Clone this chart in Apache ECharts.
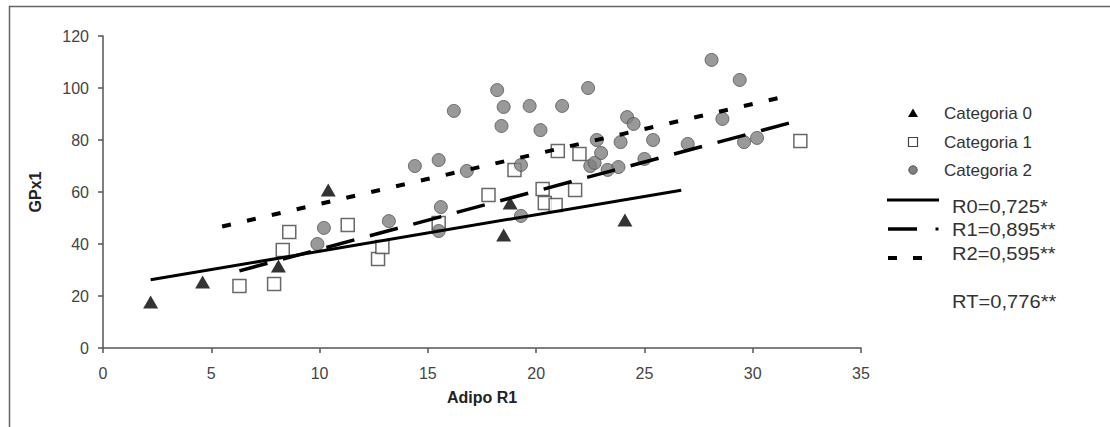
<!DOCTYPE html>
<html>
<head>
<meta charset="utf-8">
<script src="https://cdn.jsdelivr.net/npm/echarts@6/dist/echarts.min.js"></script>
<style>
  html, body { margin: 0; padding: 0; background: #fff; }
  #chart { width: 1110px; height: 427px; }
</style>
</head>
<body>
<div id="chart"></div>
<script>
// Adipo R1 (x) versus GPx1 (y), one group per category
const cat0X = [2.2, 4.6, 8.1, 10.4, 18.5, 18.8, 24.1];
const cat0Y = [17.7, 25.4, 31.5, 60.8, 43.5, 55.8, 49.2];

const cat1X = [6.3, 7.9, 8.3, 8.6, 11.3, 12.7, 12.9, 15.5, 17.8, 19.0, 20.3, 20.4, 20.9, 21.8, 21.0, 22.0, 32.2];
const cat1Y = [23.8, 24.6, 37.7, 44.6, 47.3, 34.2, 38.8, 48.1, 58.8, 68.5, 61.2, 55.8, 55.0, 60.8, 75.8, 74.6, 79.6];

const cat2X = [9.9, 10.2, 13.2, 14.4, 15.5, 15.5, 15.6, 16.2, 16.8, 18.2, 18.5, 18.4, 19.7, 20.2, 19.3, 19.3, 21.2, 22.4,
               22.5, 22.7, 22.8, 23.0, 23.3, 23.8, 23.9, 24.2, 24.5, 25.0, 25.4, 27.0, 28.1, 28.6, 29.4, 29.6, 30.2];
const cat2Y = [40.0, 46.2, 48.8, 70.0, 72.3, 45.0, 54.2, 91.2, 68.1, 99.2, 92.7, 85.4, 93.1, 83.8, 70.4, 50.8, 93.1, 100.0,
               70.0, 71.2, 80.0, 75.0, 68.5, 69.6, 79.2, 88.8, 86.2, 72.7, 80.0, 78.5, 110.8, 88.1, 103.1, 79.2, 80.8];

const seriesNames = ['Categoria 0', 'Categoria 1', 'Categoria 2'];
const trendLabels = ['R0=0,725*', 'R1=0,895**', 'R2=0,595**'];
const totalLabel = 'RT=0,776**';
// x extent over which each fitted line is drawn
const trendRange = [[2.2, 26.7], [6.3, 32.2], [5.5, 31.3]];

const xAxisTitle = 'Adipo R1';
const yAxisTitle = 'GPx1';
const xTicks = { min: 0, max: 35, step: 5 };
const yTicks = { min: 0, max: 120, step: 20 };

// least-squares line y = a + b x
function fitLine(xs, ys) {
  const n = xs.length;
  const mx = xs.reduce((s, v) => s + v, 0) / n;
  const my = ys.reduce((s, v) => s + v, 0) / n;
  let sxy = 0, sxx = 0;
  for (let i = 0; i < n; i++) {
    sxy += (xs[i] - mx) * (ys[i] - my);
    sxx += (xs[i] - mx) * (xs[i] - mx);
  }
  const b = sxy / sxx;
  const a = my - b * mx;
  return x => a + b * x;
}

const groupsX = [cat0X, cat1X, cat2X];
const groupsY = [cat0Y, cat1Y, cat2Y];
const pairs = groupsX.map((xs, g) => xs.map((x, i) => [x, groupsY[g][i]]));
const trendData = groupsX.map((xs, g) => {
  const f = fitLine(xs, groupsY[g]);
  return trendRange[g].map(x => [x, f(x)]);
});

const FONT = '"Liberation Sans", Arial, sans-serif';

const markerStyles = [
  { symbol: 'triangle', symbolSize: [15, 13], itemStyle: { color: '#000' } },
  { symbol: 'rect', symbolSize: 13, itemStyle: { color: '#fff', borderColor: '#444', borderWidth: 1.5 } },
  { symbol: 'circle', symbolSize: 13, itemStyle: { color: '#808080', borderColor: '#555', borderWidth: 1 } }
];
const lineStyles = [
  { type: 'solid', width: 3 },
  { type: [29, 16], width: 3.5 },
  { type: [9, 16.5], width: 4 }
];

const series = [];
pairs.forEach((d, g) => {
  series.push(Object.assign({
    type: 'scatter', name: seriesNames[g], data: d, z: 2,
    emphasis: { disabled: true }
  }, markerStyles[g]));
});
trendData.forEach((d, g) => {
  series.push({
    type: 'line', name: trendLabels[g], data: d, showSymbol: false, z: 3,
    lineStyle: Object.assign({ color: '#000', cap: 'butt' }, lineStyles[g]),
    emphasis: { disabled: true }
  });
});

// legend block, right of the plot
const legendX = 913, textX = 944, rTextX = 952;
const legendRowsY = [113, 142, 170];
const trendRowsY = [201, 229, 254];
const legendText = (x, y, t) => ({
  type: 'text', x: x, y: y,
  style: { text: t, fill: '#333', font: '17px ' + FONT, textVerticalAlign: 'middle', textAlign: 'left' }
});
// the fit statistics are set in a slightly wider face
const statText = (x, y, t) => ({
  type: 'text', x: x, y: y, scaleX: 1.12,
  style: { text: t, fill: '#333', font: '18px ' + FONT, textVerticalAlign: 'middle', textAlign: 'left' }
});
const graphic = [
  // outer frame (top and left edges)
  { type: 'line', shape: { x1: 9, y1: 6.5, x2: 1110, y2: 6.5 }, style: { stroke: '#666', lineWidth: 1.5 } },
  { type: 'line', shape: { x1: 9.5, y1: 6, x2: 9.5, y2: 427 }, style: { stroke: '#666', lineWidth: 1.5 } },
  // axis titles
  { type: 'text', x: 35, y: 192, rotation: Math.PI / 2,
    style: { text: yAxisTitle, fill: '#222', font: 'bold 16px ' + FONT, textAlign: 'center', textVerticalAlign: 'middle' } },
  { type: 'text', x: 482, y: 397,
    style: { text: xAxisTitle, fill: '#222', font: 'bold 16px ' + FONT, textAlign: 'center', textVerticalAlign: 'middle' } },
  // category markers
  { type: 'polygon', shape: { points: [[legendX, legendRowsY[0] - 4.5], [legendX + 5, legendRowsY[0] + 4], [legendX - 5, legendRowsY[0] + 4]] },
    style: { fill: '#000' } },
  { type: 'rect', shape: { x: legendX - 4.5, y: legendRowsY[1] - 4.5, width: 9, height: 9 },
    style: { fill: '#fff', stroke: '#444', lineWidth: 1.2 } },
  { type: 'circle', shape: { cx: legendX, cy: legendRowsY[2], r: 4.2 },
    style: { fill: '#808080', stroke: '#555', lineWidth: 1 } },
  legendText(textX, legendRowsY[0], seriesNames[0]),
  legendText(textX, legendRowsY[1], seriesNames[1]),
  legendText(textX, legendRowsY[2], seriesNames[2]),
  // fitted-line samples
  { type: 'line', shape: { x1: 887, y1: trendRowsY[0] - 1, x2: 939, y2: trendRowsY[0] - 1 }, style: { stroke: '#000', lineWidth: 3 } },
  { type: 'line', shape: { x1: 888, y1: trendRowsY[1], x2: 917, y2: trendRowsY[1] }, style: { stroke: '#000', lineWidth: 3.5 } },
  { type: 'rect', shape: { x: 935.5, y: trendRowsY[1] - 1.5, width: 3, height: 3 }, style: { fill: '#000' } },
  { type: 'line', shape: { x1: 888, y1: trendRowsY[2] + 4, x2: 897, y2: trendRowsY[2] + 4 }, style: { stroke: '#000', lineWidth: 4 } },
  { type: 'line', shape: { x1: 913, y1: trendRowsY[2] + 4, x2: 922, y2: trendRowsY[2] + 4 }, style: { stroke: '#000', lineWidth: 4 } },
  statText(rTextX, trendRowsY[0] + 6, trendLabels[0]),
  statText(rTextX, trendRowsY[1] + 1, trendLabels[1]),
  statText(rTextX, trendRowsY[2], trendLabels[2]),
  statText(rTextX, 302, totalLabel)
];

const axisCommon = {
  axisLine: { show: true, onZero: false, lineStyle: { color: '#555', width: 1.5 } },
  axisTick: { show: true, inside: false, length: 5, lineStyle: { color: '#555', width: 1.5 } },
  splitLine: { show: false },
  axisLabel: { color: '#444', fontSize: 16, fontFamily: FONT }
};

const chart = echarts.init(document.getElementById('chart'), null, { renderer: 'svg' });
chart.setOption({
  animation: false,
  backgroundColor: '#fff',
  grid: { left: 103, right: 249, top: 36, bottom: 79, containLabel: false },
  xAxis: Object.assign({}, axisCommon, {
    type: 'value', min: xTicks.min, max: xTicks.max, interval: xTicks.step,
    axisLabel: Object.assign({}, axisCommon.axisLabel, { margin: 17 })
  }),
  yAxis: Object.assign({}, axisCommon, {
    type: 'value', min: yTicks.min, max: yTicks.max, interval: yTicks.step,
    axisLabel: Object.assign({}, axisCommon.axisLabel, { margin: 14 })
  }),
  tooltip: { show: false },
  series: series,
  graphic: graphic
});
</script>
</body>
</html>
